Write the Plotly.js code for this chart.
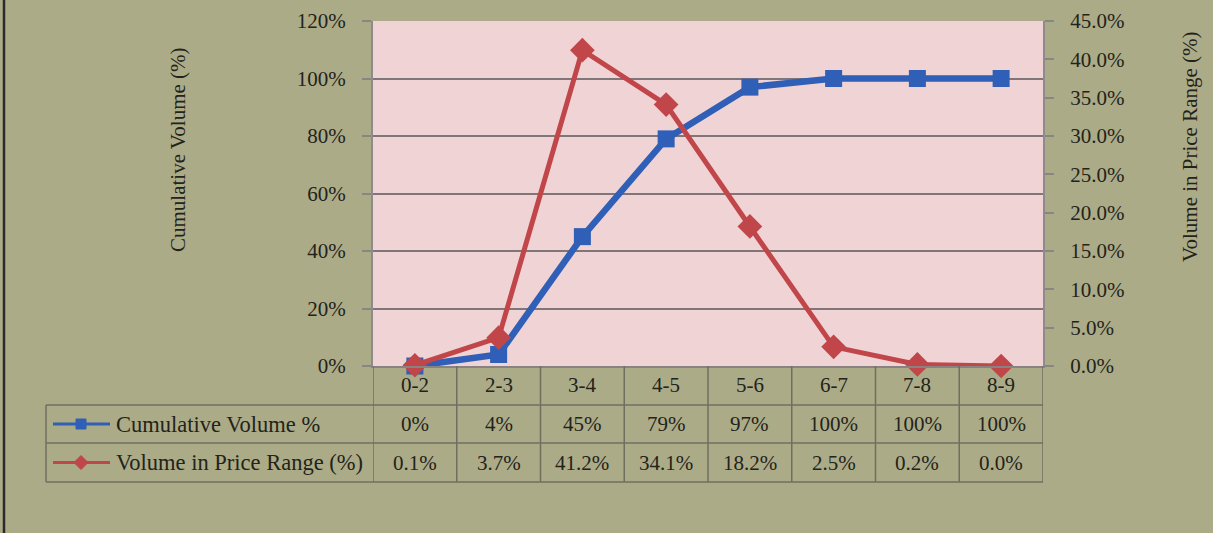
<!DOCTYPE html>
<html>
<head>
<meta charset="utf-8">
<script src="https://cdn.plot.ly/plotly-3.0.1.min.js"></script>
<style>
  html, body { margin: 0; padding: 0; background: #acab88; }
  #chart { width: 1213px; height: 533px; }
</style>
</head>
<body>
<div id="chart"></div>
<script>
// Price ranges and the two volume series
const priceRanges = ['0-2', '2-3', '3-4', '4-5', '5-6', '6-7', '7-8', '8-9'];
const cumulativeVolume = [0, 4, 45, 79, 97, 100, 100, 100];          // %
const rangeVolume = [0.1, 3.7, 41.2, 34.1, 18.2, 2.5, 0.2, 0.0];     // %

const seriesNames = ['Cumulative Volume %', 'Volume in Price Range (%)'];
const leftTitle = 'Cumulative Volume (%)';
const rightTitle = 'Volume in Price Range (%)';

const BLUE = '#2f5fb6';
const RED = '#c0464a';
const TXT = '#23231a';
const GRID = '#807579';
const TABLE_LINE = '#6f6f60';
const FONT = 'Liberation Serif, Times New Roman, serif';
const FS = 21;

// geometry of the plot area in pixels, used to place the data table in paper units
const W = 1213, H = 533;
const M = { l: 373, r: 170, t: 21, b: 167 };
const plotW = W - M.l - M.r, plotH = H - M.t - M.b;
const py = Y => (H - M.b - Y) / plotH;       // pixel row -> paper y
const px = X => (X - M.l) / plotW;           // pixel col -> paper x

const traces = [
  {
    x: priceRanges, y: cumulativeVolume, name: seriesNames[0],
    type: 'scatter', mode: 'lines+markers', yaxis: 'y',
    line: { color: BLUE, width: 6.5 },
    marker: { symbol: 'square', size: 17, color: BLUE },
    cliponaxis: false
  },
  {
    x: priceRanges, y: rangeVolume, name: seriesNames[1],
    type: 'scatter', mode: 'lines+markers', yaxis: 'y2',
    line: { color: RED, width: 5 },
    marker: { symbol: 'diamond', size: 19, color: RED },
    cliponaxis: false
  }
];

// data table rows
const rowLines = [405, 443, 482];
const rowCenters = { header: 385, cum: 424, vol: 462.5 };

const shapes = [];
const annotations = [];

// frame line on the left edge of the figure
shapes.push({ type: 'line', xref: 'paper', yref: 'paper',
  x0: px(4), x1: px(4), y0: py(0), y1: py(H), line: { color: '#2a2a2a', width: 2.5 } });

// vertical cell borders at category boundaries
for (let i = 0; i <= priceRanges.length; i++) {
  shapes.push({ type: 'line', xref: 'x', yref: 'paper',
    x0: i - 0.5, x1: i - 0.5, y0: 0, y1: py(rowLines[2]),
    line: { color: TABLE_LINE, width: 1.5 } });
}
// left edge of the label column
shapes.push({ type: 'line', xref: 'paper', yref: 'paper',
  x0: px(46), x1: px(46), y0: py(rowLines[0]), y1: py(rowLines[2]),
  line: { color: TABLE_LINE, width: 1.5 } });
// horizontal row borders
rowLines.forEach(Y => {
  shapes.push({ type: 'line', xref: 'paper', yref: 'paper',
    x0: px(46), x1: 1, y0: py(Y), y1: py(Y),
    line: { color: TABLE_LINE, width: 1.5 } });
});

// legend keys inside the table
function legendKey(Y, color, symbolPath) {
  shapes.push({ type: 'line', xref: 'paper', yref: 'paper',
    x0: px(53), x1: px(110), y0: py(Y), y1: py(Y),
    line: { color: color, width: 3 } });
  shapes.push({ type: 'path', xref: 'paper', yref: 'paper',
    xsizemode: 'pixel', ysizemode: 'pixel',
    xanchor: px(81), yanchor: py(Y),
    path: symbolPath, fillcolor: color, line: { color: color, width: 1 } });
}
legendKey(rowCenters.cum, BLUE, 'M-5,-5 L5,-5 L5,5 L-5,5 Z');
legendKey(rowCenters.vol, RED, 'M0,-7 L7,0 L0,7 L-7,0 Z');

const LABEL_FS = 22.5;
annotations.push({ xref: 'paper', yref: 'paper', x: px(114), y: py(rowCenters.cum),
  xanchor: 'left', yanchor: 'middle', text: seriesNames[0], showarrow: false,
  font: { family: FONT, size: LABEL_FS, color: TXT } });
annotations.push({ xref: 'paper', yref: 'paper', x: px(114), y: py(rowCenters.vol),
  xanchor: 'left', yanchor: 'middle', text: seriesNames[1], showarrow: false,
  font: { family: FONT, size: LABEL_FS, color: TXT } });

// table values
priceRanges.forEach((cat, i) => {
  annotations.push({ xref: 'x', yref: 'paper', x: cat, y: py(rowCenters.header),
    text: cat, showarrow: false, xanchor: 'center', yanchor: 'middle',
    font: { family: FONT, size: FS, color: TXT } });
  annotations.push({ xref: 'x', yref: 'paper', x: cat, y: py(rowCenters.cum),
    text: cumulativeVolume[i] + '%', showarrow: false, xanchor: 'center', yanchor: 'middle',
    font: { family: FONT, size: FS, color: TXT } });
  annotations.push({ xref: 'x', yref: 'paper', x: cat, y: py(rowCenters.vol),
    text: rangeVolume[i].toFixed(1) + '%', showarrow: false, xanchor: 'center', yanchor: 'middle',
    font: { family: FONT, size: FS, color: TXT } });
});

// axis titles
annotations.push({ xref: 'paper', yref: 'paper', x: px(178), y: py(150),
  text: leftTitle, textangle: -90, showarrow: false, xanchor: 'center', yanchor: 'middle',
  font: { family: FONT, size: FS, color: TXT } });
annotations.push({ xref: 'paper', yref: 'paper', x: px(1190), y: py(147),
  text: rightTitle, textangle: -90, showarrow: false, xanchor: 'center', yanchor: 'middle',
  font: { family: FONT, size: FS, color: TXT } });

const layout = {
  width: W, height: H,
  margin: M,
  paper_bgcolor: '#acab88',
  plot_bgcolor: '#f0d3d5',
  showlegend: false,
  font: { family: FONT, size: FS, color: TXT },
  xaxis: {
    type: 'category', categoryorder: 'array', categoryarray: priceRanges,
    range: [-0.5, priceRanges.length - 0.5],
    showticklabels: false, ticks: '', showgrid: false, zeroline: false,
    showline: true, linecolor: '#8a8282', linewidth: 2
  },
  yaxis: {
    range: [0, 120], dtick: 20, ticksuffix: '%',
    showgrid: true, gridcolor: GRID, gridwidth: 2, zeroline: false,
    showline: true, linecolor: '#8f8a8c', linewidth: 2,
    ticks: 'outside', ticklen: 9, tickcolor: '#8a8585', tickwidth: 2,
    ticklabelstandoff: 12,
    tickfont: { family: FONT, size: FS, color: TXT }
  },
  yaxis2: {
    range: [0, 45], dtick: 5, tickformat: '.1f', ticksuffix: '%',
    overlaying: 'y', side: 'right', showgrid: false, zeroline: false,
    showline: true, linecolor: '#8f8a8c', linewidth: 2,
    ticks: 'outside', ticklen: 9, tickcolor: '#8a8585', tickwidth: 2,
    ticklabelstandoff: 12,
    tickfont: { family: FONT, size: FS, color: TXT }
  },
  shapes: shapes,
  annotations: annotations
};

Plotly.newPlot('chart', traces, layout, { displayModeBar: false, staticPlot: true });
</script>
</body>
</html>
